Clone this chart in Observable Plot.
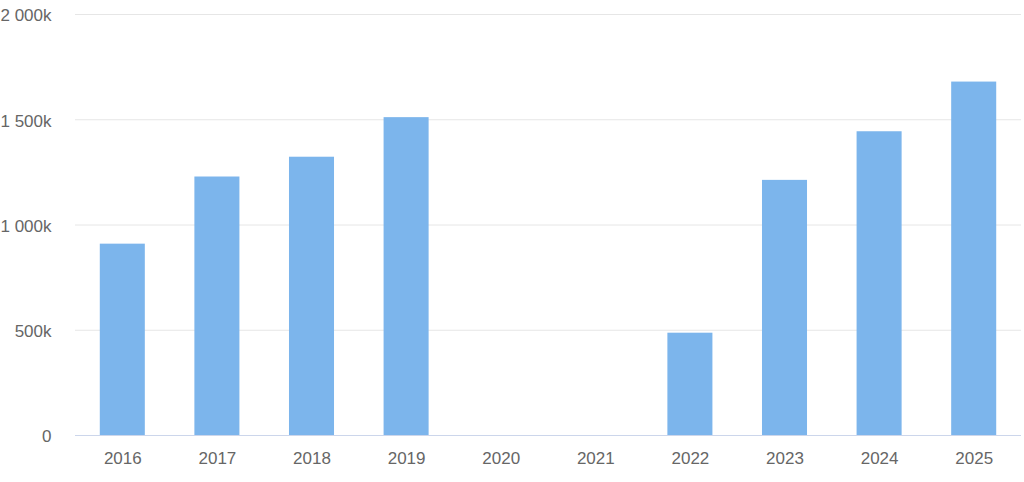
<!DOCTYPE html>
<html>
<head>
<meta charset="utf-8">
<script src="https://cdn.jsdelivr.net/npm/d3@7"></script>
<script src="https://cdn.jsdelivr.net/npm/@observablehq/plot@0.6"></script>
<style>
  html, body { margin: 0; padding: 0; background: #fff; }
  #chart svg { display: block; }
</style>
</head>
<body>
<div id="chart"></div>
<script>
const years = ["2016", "2017", "2018", "2019", "2020", "2021", "2022", "2023", "2024", "2025"];
const values = [909000, 1228000, 1322000, 1510000, 0, 0, 486000, 1212000, 1443000, 1679000];
const yTicks = [0, 500000, 1000000, 1500000, 2000000];

const data = years.map((y, i) => ({year: y, value: values[i]}));
const fmt = v => v === 0 ? "0" : d3.format(",")(v / 1000).replace(/,/g, " ") + "k";

const chart = Plot.plot({
  width: 1024,
  height: 482,
  marginLeft: 75,
  marginRight: 3,
  marginTop: 14,
  marginBottom: 47,
  style: {fontFamily: "'Liberation Sans', Arial, sans-serif", fontSize: "17px", color: "#666666", background: "#ffffff"},
  x: {domain: years, paddingInner: 0.524, paddingOuter: 0.262, align: 0.5, round: false, label: null},
  y: {domain: [0, 2000000], label: null},
  marks: [
    Plot.ruleY(yTicks.filter(t => t > 0), {stroke: "#e6e6e6", strokeWidth: 1}),
    Plot.barY(data, {x: "year", y: "value", fill: "#7cb5ec"}),
    Plot.ruleY([0], {stroke: "#ccd6eb", strokeWidth: 1}),
    Plot.axisY(yTicks, {tickSize: 0, tickPadding: 24, tickFormat: fmt, fill: "#666666", fontSize: 17, dy: 1.5, label: null}),
    Plot.axisX({tickSize: 0, tickPadding: 16, fill: "#666666", fontSize: 17, label: null})
  ]
});
document.getElementById("chart").appendChild(chart);
</script>
</body>
</html>
